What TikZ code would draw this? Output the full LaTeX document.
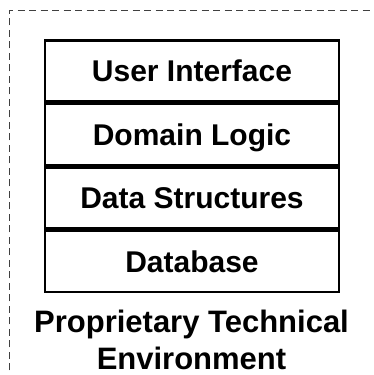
\documentclass[tikz,border=0pt]{standalone}
\usepackage{fontspec}
\setmainfont{Liberation Sans}
\begin{document}
\begin{tikzpicture}[x=1pt,y=1pt,
  layerbox/.style={draw=black, line width=2.5pt, minimum width=294pt,
    minimum height=61pt, inner sep=0pt, text height=21.5pt, text depth=0pt,
    font=\bfseries\fontsize{30}{36}\selectfont},
  envlabel/.style={align=center, inner sep=0pt,
    font=\bfseries\fontsize{31}{36.5}\selectfont},
  envframe/.style={draw=black!75, line width=1pt, dash pattern=on 7pt off 4.5pt}]
  \useasboundingbox (0,0) rectangle (373,375);
  \clip (0,0) rectangle (373,375);
  % environment frame, running past the right and bottom edges
  \draw[envframe] (9.5,-30) -- (9.5,364.5) -- (400,364.5);
  % stacked layers
  \node[layerbox] (ui) at (192,304)   {User Interface};
  \node[layerbox] (dl) at (192,240.5) {Domain Logic};
  \node[layerbox] (ds) at (192,177)   {Data Structures};
  \node[layerbox] (db) at (192,113.5) {Database};
  % caption of the environment
  \node[envlabel] (env) at (191.5,35) {Proprietary Technical\\Environment};
\end{tikzpicture}
\end{document}
